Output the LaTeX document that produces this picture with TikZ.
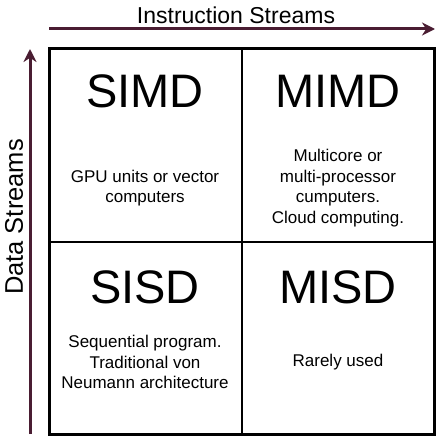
\documentclass[tikz,border=0pt]{standalone}
\usepackage{fontspec}
\setmainfont{Liberation Sans}
\usetikzlibrary{arrows.meta}
\definecolor{arrowc}{HTML}{4A1D32}
\tikzset{
  cellhead/.style={font=\fontsize{47}{50}\selectfont, inner sep=0pt},
  cellbody/.style={font=\fontsize{17}{20.5}\selectfont, align=center, inner sep=0pt},
  axislbl/.style={font=\fontsize{23}{26}\selectfont, inner sep=0pt},
  axisarrow/.style={color=arrowc, line width=3pt, -{Stealth[length=13pt,width=13pt]}},
  gridline/.style={draw=black, line width=2.5pt}
}
\begin{document}
\begin{tikzpicture}[x=1pt,y=-1pt]
\useasboundingbox (0,0) rectangle (444,444);
% grid
\draw[gridline, line width=3pt] (49,49) rectangle (434,434);
\coordinate (vt) at (242,49);
\coordinate (vb) at (242,434);
\coordinate (hl) at (49,242);
\coordinate (hr) at (434,242);
\draw[gridline] (vt) -- (vb);
\draw[gridline] (hl) -- (hr);
% axes
\coordinate (ia) at (49,29);
\coordinate (ib) at (435,29);
\draw[axisarrow] (ia) -- (ib);
\coordinate (da) at (30,434);
\coordinate (db) at (30,49);
\draw[axisarrow] (da) -- (db);
\node[axislbl] (il) at (236,15) {Instruction Streams};
\node[axislbl, font=\fontsize{25.5}{28}\selectfont, rotate=90] (dl) at (14,217) {Data Streams};
% cells
\node[cellhead] (simd) at (145,91) {SIMD};
\node[cellhead] (mimd) at (338,91) {MIMD};
\node[cellhead] (sisd) at (145,287) {SISD};
\node[cellhead] (misd) at (338,287) {MISD};
\node[cellbody] (simdt) at (145,188) {GPU units or vector\\computers};
\node[cellbody] (mimdt) at (338,188) {Multicore or\\multi-processor\\cumputers.\\Cloud computing.};
\node[cellbody] (sisdt) at (145,362) {Sequential program.\\Traditional von\\Neumann architecture};
\node[cellbody] (misdt) at (338,362) {Rarely used};
\end{tikzpicture}
\end{document}
